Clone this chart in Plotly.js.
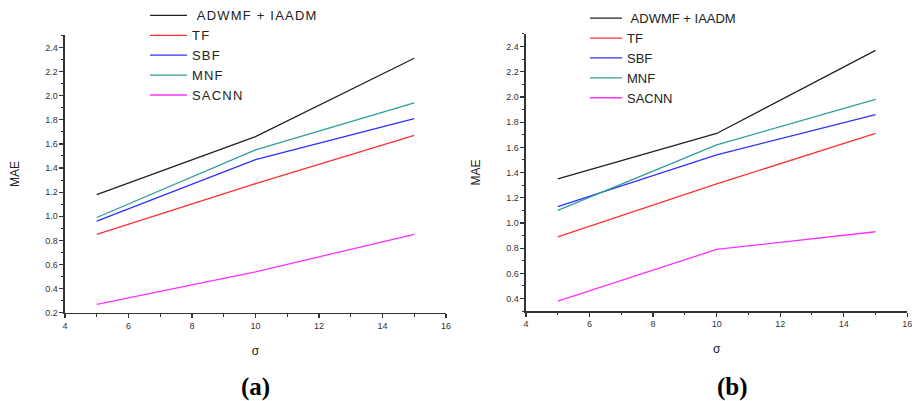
<!DOCTYPE html>
<html>
<head>
<meta charset="utf-8">
<script src="https://cdn.plot.ly/plotly-3.0.1.min.js"></script>
<style>
html,body{margin:0;padding:0;background:#fff;}
#chart{width:916px;height:401px;}
.legendtext{letter-spacing:1.2px;}
</style>
</head>
<body>
<div id="chart"></div>
<script>
const sigma = [5, 10, 15];
const seriesNames = ["\u00a0ADWMF + IAADM", "TF", "SBF", "MNF", "SACNN"];
const seriesColors = ["#222222", "#ff3030", "#3030ff", "#2e9e9a", "#ff30ff"];
// panel (a)
const a_ADWMF = [1.18, 1.66, 2.31];
const a_TF    = [0.85, 1.27, 1.67];
const a_SBF   = [0.96, 1.47, 1.81];
const a_MNF   = [0.99, 1.55, 1.94];
const a_SACNN = [0.27, 0.54, 0.85];
// panel (b)
const b_ADWMF = [1.35, 1.71, 2.37];
const b_TF    = [0.89, 1.31, 1.71];
const b_SBF   = [1.13, 1.54, 1.86];
const b_MNF   = [1.10, 1.62, 1.98];
const b_SACNN = [0.38, 0.79, 0.93];
const panelLabels = ["(a)", "(b)"];
const xTitle = "σ";
const yTitle = "MAE";

const aSeries = [a_ADWMF, a_TF, a_SBF, a_MNF, a_SACNN];
const bSeries = [b_ADWMF, b_TF, b_SBF, b_MNF, b_SACNN];

const traces = [];
aSeries.forEach((ys, i) => traces.push({
  x: sigma, y: ys, name: seriesNames[i], mode: 'lines', type: 'scatter',
  line: {color: seriesColors[i], width: 1.3}, xaxis: 'x', yaxis: 'y', legend: 'legend'
}));
bSeries.forEach((ys, i) => traces.push({
  x: sigma, y: ys, name: seriesNames[i], mode: 'lines', type: 'scatter',
  line: {color: seriesColors[i], width: 1.3}, xaxis: 'x2', yaxis: 'y2', legend: 'legend2'
}));

const tickFont = {family: 'Liberation Sans, Arial, sans-serif', size: 9, color: '#333'};
const titleFont = {family: 'Liberation Sans, Arial, sans-serif', size: 12, color: '#222'};
function xAxis(domain, anchor) {
  return {
    domain: domain, anchor: anchor, range: [4, 16], dtick: 2, tick0: 0,
    showline: true, linecolor: '#333', linewidth: 1.5, showgrid: false, zeroline: false,
    ticks: 'outside', ticklen: 4, tickwidth: 1.2, tickcolor: '#333', tickfont: tickFont,
    minor: {dtick: 1, ticks: 'outside', ticklen: 2.5, tickwidth: 1, tickcolor: '#333', showgrid: false},
    title: {text: xTitle, font: titleFont, standoff: 16}, automargin: false
  };
}
function yAxis(domain, anchor, range) {
  return {
    domain: domain, anchor: anchor, range: range, dtick: 0.2, tick0: 0,
    showline: true, linecolor: '#333', linewidth: 1.5, showgrid: false, zeroline: false,
    ticks: 'outside', ticklen: 4, tickwidth: 1.2, tickcolor: '#333', tickfont: tickFont,
    tickformat: '.1f',
    minor: {dtick: 0.1, ticks: 'outside', ticklen: 2.5, tickwidth: 1, tickcolor: '#333', showgrid: false},
    title: {text: yTitle, font: titleFont, standoff: 23}, automargin: false
  };
}
const legendFont = {family: 'Liberation Sans, Arial, sans-serif', size: 13, color: '#222'};
const panelFont = {family: 'Liberation Serif, Times New Roman, serif', size: 25, color: '#000'};
const layout = {
  width: 916, height: 401,
  margin: {l: 0, r: 0, t: 0, b: 0},
  paper_bgcolor: '#fff', plot_bgcolor: '#fff',
  showlegend: true,
  xaxis: xAxis([0.07096, 0.4869], 'y'),
  yaxis: yAxis([0.2227, 0.9234], 'x', [0.2, 2.5]),
  xaxis2: xAxis([0.5742, 0.9905], 'y2'),
  yaxis2: yAxis([0.2269, 0.9269], 'x2', [0.3, 2.5]),
  legend: {x: 145 / 916, y: 1.0115, xanchor: 'left', yanchor: 'top', font: legendFont,
           bgcolor: 'rgba(0,0,0,0)', tracegroupgap: 0, itemwidth: 37},
  legend2: {x: 585 / 916, y: 1.0045, xanchor: 'left', yanchor: 'top', font: legendFont,
           bgcolor: 'rgba(0,0,0,0)', tracegroupgap: 0, itemwidth: 32},
  annotations: [
    {text: '<b>' + panelLabels[0] + '</b>', x: 255 / 916, y: 1 - 387 / 401, xref: 'paper', yref: 'paper',
     xanchor: 'center', yanchor: 'middle', showarrow: false, font: panelFont},
    {text: '<b>' + panelLabels[1] + '</b>', x: 732 / 916, y: 1 - 387 / 401, xref: 'paper', yref: 'paper',
     xanchor: 'center', yanchor: 'middle', showarrow: false, font: panelFont}
  ]
};
Plotly.newPlot('chart', traces, layout, {displayModeBar: false, staticPlot: true});
</script>
</body>
</html>
